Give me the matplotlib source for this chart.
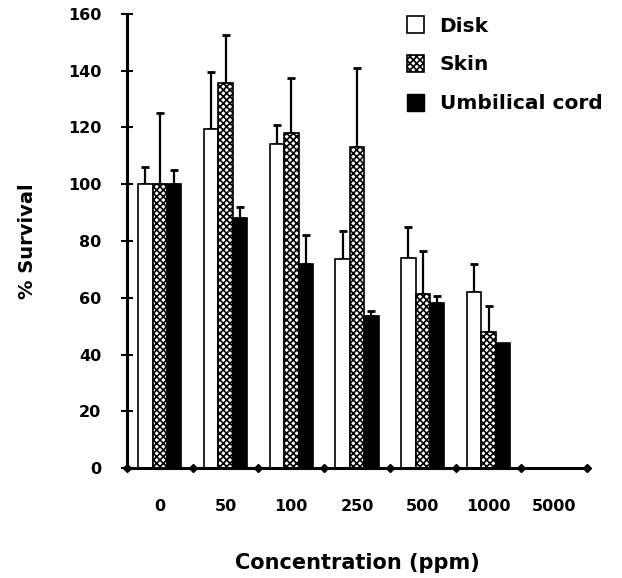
import numpy as np
import matplotlib.pyplot as plt
from matplotlib.patches import Patch

plt.rcParams['font.family'] = ['DejaVu Sans']
plt.rcParams['font.weight'] = 'bold'
plt.rcParams['hatch.linewidth'] = 1.2

concentrations = ['0', '50', '100', '250', '500', '1000', '5000']

# % survival, mean and upper error (no data at 5000 ppm)
disk = [100, 119.5, 114, 73.5, 74, 62]
disk_err = [6, 20, 7, 10, 11, 10]
skin = [100, 135.5, 118, 113, 61.5, 48]
skin_err = [25, 17, 19.5, 28, 15, 9]
cord = [100, 88, 72, 53.5, 58, 44]
cord_err = [5, 4, 10, 2, 2.5, 0]

fig = plt.figure(figsize=(6.22, 5.78), dpi=100)
ax = fig.add_axes([0.204, 0.19, 0.74, 0.786])

w = 0.22
x = np.arange(len(disk))
series = [
    (disk, disk_err, -w, dict(color='white', edgecolor='black', linewidth=1.2)),
    (skin, skin_err, 0, dict(color='white', edgecolor='black', hatch='xxxxx', linewidth=1.2)),
    (cord, cord_err, w, dict(color='black', edgecolor='black', linewidth=1.2)),
]
for vals, errs, off, style in series:
    ax.bar(x + off, vals, w, zorder=2, **style)
    errs = np.array(errs, dtype=float)
    keep = errs > 0
    ax.errorbar((x + off)[keep], np.array(vals)[keep],
                yerr=[np.zeros(keep.sum()), errs[keep]],
                fmt='none', ecolor='black', elinewidth=1.6,
                capsize=3, capthick=2, zorder=1)

ax.set_xlim(-0.5, len(concentrations) - 0.5)
ax.set_ylim(0, 160)
ax.set_yticks(np.arange(0, 161, 20))
ax.set_xticks(np.arange(len(concentrations)))
ax.set_xticklabels(concentrations)

# diamond markers at the group boundaries on the x axis
bounds = np.arange(len(concentrations) + 1) - 0.5
ax.plot(bounds, np.zeros_like(bounds), 'kD', ms=4, clip_on=False, zorder=5)

for side in ['top', 'right']:
    ax.spines[side].set_visible(False)
for side in ['left', 'bottom']:
    ax.spines[side].set_linewidth(2.2)

ax.tick_params(axis='y', direction='inout', length=9, width=1.5,
               labelsize=11.5, pad=14)
ax.tick_params(axis='x', length=0, labelsize=11.5, pad=22)

ax.set_ylabel('% Survival', fontsize=14, fontweight='bold', labelpad=22)
ax.set_xlabel('Concentration (ppm)', fontsize=15, fontweight='bold', labelpad=28)

handles = [
    Patch(facecolor='white', edgecolor='black', linewidth=1.2),
    Patch(facecolor='white', edgecolor='black', hatch='xxxxx', linewidth=1.2),
    Patch(facecolor='black', edgecolor='black'),
]
ax.legend(handles, ['Disk', 'Skin', 'Umbilical cord'], loc='upper left',
          bbox_to_anchor=(0.57, 1.035), frameon=False,
          handlelength=0.85, handleheight=0.95, labelspacing=0.95,
          handletextpad=0.75, prop={'weight': 'bold', 'size': 14.5})

fig.savefig('out.png', dpi=100)
